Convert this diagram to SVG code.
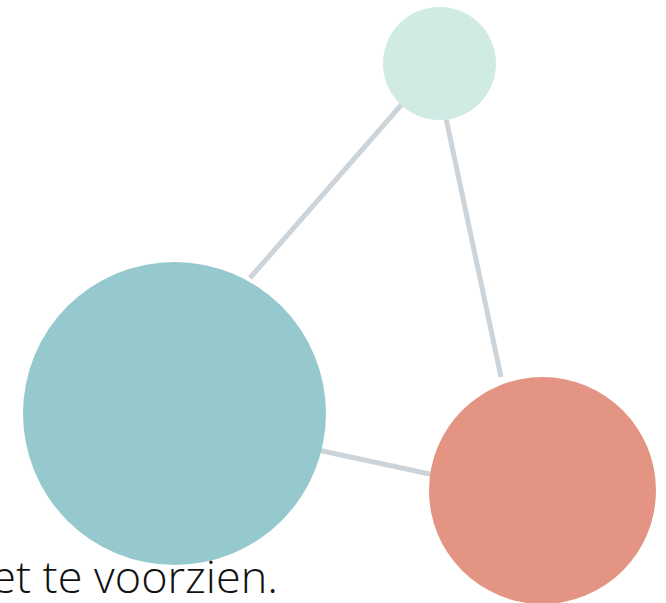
<svg xmlns="http://www.w3.org/2000/svg" width="666" height="603" viewBox="0 0 666 603">
<style>
.edge{stroke:#cdd4d9;stroke-width:5;fill:none;stroke-linecap:butt}
.lbl{font-family:"Open Sans","Liberation Sans",sans-serif;font-size:45px;font-weight:300;fill:#111}
</style>
<rect width="666" height="603" fill="#ffffff"/>
<g id="connectors">
<line class="edge" x1="250" y1="278" x2="430" y2="72"/>
<line class="edge" x1="501" y1="377" x2="440" y2="90"/>
<line class="edge" x1="320" y1="450.5" x2="432" y2="474.5"/>
</g>
<g id="node-small"><circle cx="439.5" cy="63.5" r="56.5" fill="#d0eae4"/></g>
<g id="node-large"><circle cx="174.5" cy="413.5" r="151.5" fill="#96c9cd"/></g>
<g id="node-orange"><circle cx="542.5" cy="490.5" r="113.5" fill="#e39482"/></g>
<text class="lbl" x="278" y="593" text-anchor="end">et te voorzien.</text>
</svg>
